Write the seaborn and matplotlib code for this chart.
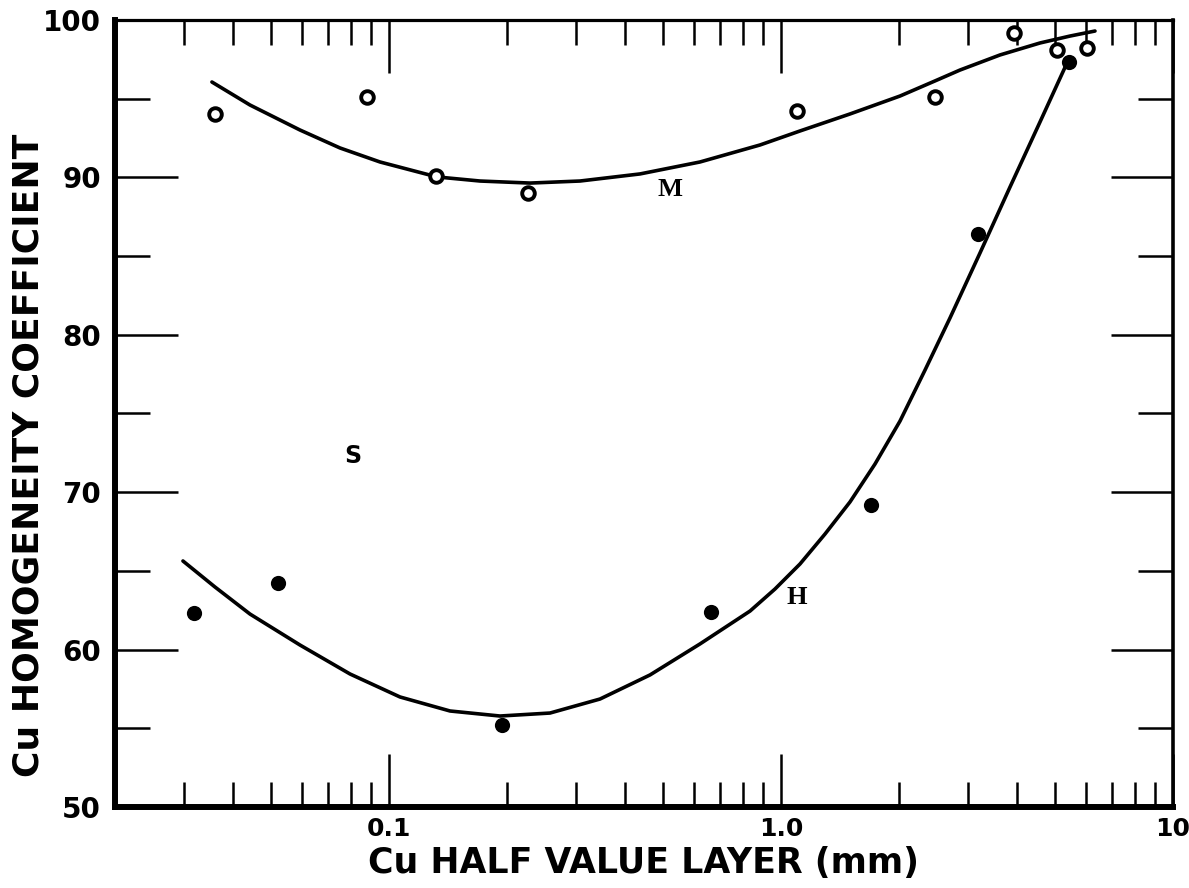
import matplotlib
matplotlib.use("Agg")
import matplotlib.pyplot as plt
import seaborn as sns
from matplotlib.ticker import FixedLocator, FixedFormatter, LogLocator, MultipleLocator, NullFormatter

# Measured points: M series (open circles) and H series (filled circles)
m_hvl = [0.036, 0.088, 0.132, 0.226, 1.10, 2.47, 3.93, 5.06, 6.04]
m_coef = [94.0, 95.1, 90.1, 89.0, 94.2, 95.1, 99.2, 98.1, 98.2]

h_hvl = [0.0318, 0.0521, 0.194, 0.662, 1.70, 3.18, 5.43]
h_coef = [62.3, 64.2, 55.2, 62.4, 69.2, 86.4, 97.3]

# Smooth fitted curves drawn through each series
m_curve_hvl = [0.03534, 0.04419, 0.05929, 0.07499, 0.09485, 0.13254, 0.17064,
               0.22895, 0.30709, 0.43685, 0.62138, 0.88405, 1.1181, 1.4997,
               2.0119, 2.4715, 2.8610, 3.6207, 4.5783, 5.4602, 6.3241]
m_curve_coef = [96.06, 94.60, 93.01, 91.87, 90.98, 90.03, 89.77,
                89.64, 89.77, 90.22, 90.98, 92.06, 92.95, 94.03,
                95.17, 96.13, 96.82, 97.78, 98.54, 98.98, 99.30]

h_curve_hvl = [0.02981, 0.03597, 0.04419, 0.05929, 0.07954, 0.10668, 0.14311,
               0.19196, 0.25751, 0.34536, 0.46330, 0.62138, 0.83377, 0.96540,
               1.1181, 1.2947, 1.4997, 1.7370, 2.0119, 2.3304, 2.6985,
               3.2187, 3.8390, 4.5783, 5.3654]
h_curve_coef = [65.63, 63.98, 62.26, 60.29, 58.45, 56.99, 56.10,
                55.78, 55.97, 56.86, 58.39, 60.36, 62.45, 63.85,
                65.44, 67.34, 69.38, 71.79, 74.52, 77.76, 81.07,
                85.20, 89.39, 93.52, 97.27]

# Curve / region labels
labels = ["M", "H", "S"]
label_hvl = [0.521, 1.099, 0.0809]
label_coef = [89.2, 63.3, 72.3]

x_ticks = [0.1, 1.0, 10]
x_tick_labels = ["0.1", "1.0", "10"]
y_ticks = [50, 60, 70, 80, 90, 100]
y_tick_labels = ["50", "60", "70", "80", "90", "100"]

sns.set_style("ticks")
plt.rcParams["font.family"] = ["DejaVu Sans"]
plt.rcParams["text.color"] = "black"
plt.rcParams["axes.labelcolor"] = "black"
plt.rcParams["xtick.color"] = "black"
plt.rcParams["ytick.color"] = "black"

fig = plt.figure(figsize=(11.89, 8.88), dpi=100)
ax = fig.add_axes([115 / 1189, 1 - 807 / 888, (1173 - 115) / 1189, (807 - 20) / 888])

for cx, cy in [(m_curve_hvl, m_curve_coef), (h_curve_hvl, h_curve_coef)]:
    sns.lineplot(x=cx, y=cy, ax=ax, color="black", linewidth=2.6, sort=False,
                 estimator=None, zorder=2, solid_joinstyle="round",
                 solid_capstyle="round")

sns.scatterplot(x=m_hvl, y=m_coef, ax=ax, marker="o", s=82, facecolor="white",
                edgecolor="black", linewidth=2.8, zorder=3)
sns.scatterplot(x=h_hvl, y=h_coef, ax=ax, marker="o", s=120, color="black",
                edgecolor="black", linewidth=0, zorder=3)

ax.set_xscale("log")
ax.set_xlim(0.02, 10)
ax.set_ylim(50, 100)

ax.xaxis.set_major_locator(FixedLocator(x_ticks))
ax.xaxis.set_major_formatter(FixedFormatter(x_tick_labels))
ax.xaxis.set_minor_locator(LogLocator(base=10, subs=range(2, 10)))
ax.xaxis.set_minor_formatter(NullFormatter())
ax.yaxis.set_major_locator(FixedLocator(y_ticks))
ax.yaxis.set_major_formatter(FixedFormatter(y_tick_labels))
ax.yaxis.set_minor_locator(MultipleLocator(5))

ax.tick_params(axis="both", which="both", direction="in", top=True, right=True,
               color="black", labelcolor="black")
ax.tick_params(axis="x", which="major", length=38, width=1.8, pad=7, labelsize=18)
ax.tick_params(axis="x", which="minor", length=18, width=1.8)
ax.tick_params(axis="y", which="major", length=45, width=1.8, pad=10, labelsize=20)
ax.tick_params(axis="y", which="minor", length=25, width=1.8)
for lab in ax.get_xticklabels() + ax.get_yticklabels():
    lab.set_fontweight("bold")

ax.spines["left"].set_linewidth(4.3)
ax.spines["bottom"].set_linewidth(4.3)
ax.spines["top"].set_linewidth(2.3)
ax.spines["right"].set_linewidth(2.6)
for s in ax.spines.values():
    s.set_color("black")

ax.set_xlabel("Cu HALF VALUE LAYER (mm)", fontsize=25, fontweight="bold", va="center")
ax.xaxis.set_label_coords(0.5, -0.071)
ax.set_ylabel("Cu HOMOGENEITY COEFFICIENT", fontsize=26, fontweight="bold", va="center")
ax.yaxis.set_label_coords(-0.082, 0.447)

for lab, xv, yv in zip(labels, label_hvl, label_coef):
    if lab == "S":
        ax.text(xv, yv, lab, fontsize=17, fontweight="bold", family="DejaVu Sans",
                ha="center", va="center")
    else:
        ax.text(xv, yv, lab, fontsize=19, fontweight="bold", family="Liberation Serif",
                ha="center", va="center")

fig.savefig("out.png", dpi=100, facecolor="white")
